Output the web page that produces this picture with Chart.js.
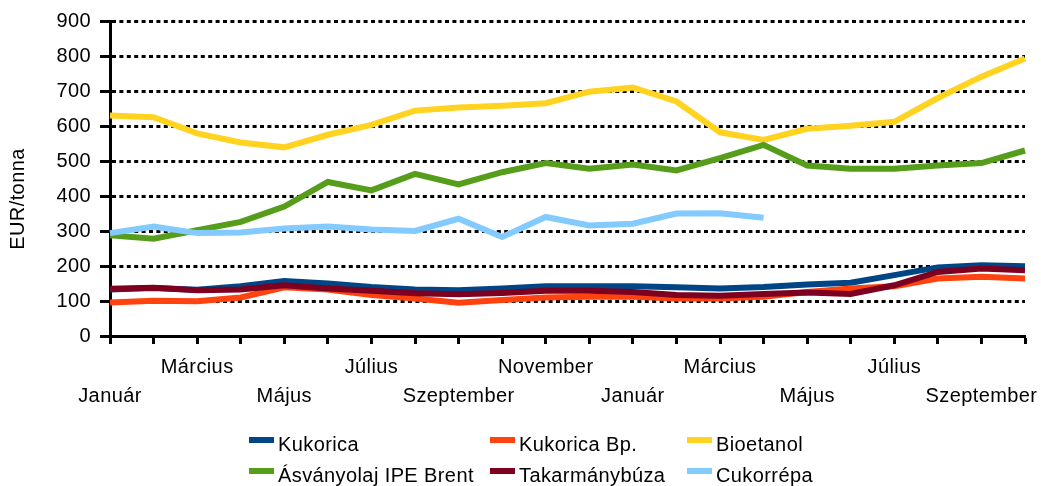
<!DOCTYPE html>
<html>
<head>
<meta charset="utf-8">
<title>EUR/tonna</title>
<script src="https://cdn.jsdelivr.net/npm/chart.js@4.4.1/dist/chart.umd.min.js"></script>
<style>
  html, body { margin: 0; padding: 0; background: #fff; }
  canvas { display: block; }
</style>
</head>
<body>
<canvas id="chart" width="1041" height="486"></canvas>
<script>
// Months on the x axis (two years, January to October)
const months = [
  'Január', 'Február', 'Március', 'Április', 'Május', 'Június', 'Július', 'Augusztus',
  'Szeptember', 'Október', 'November', 'December',
  'Január', 'Február', 'Március', 'Április', 'Május', 'Június', 'Július', 'Augusztus',
  'Szeptember', 'Október'
];

// Prices, EUR/tonna
const kukorica      = [133, 137, 132, 142, 157, 150, 140, 133, 131, 136, 142, 142, 142, 139, 136, 140, 147, 152, 174, 196, 202, 199];
const kukoricaBp    = [96, 101, 99, 110, 139, 133, 117, 107, 95, 103, 110, 112, 112, 107, 107, 112, 126, 136, 142, 164, 169, 164];
const bioetanol     = [630, 625, 579, 553, 539, 575, 603, 644, 653, 658, 665, 698, 710, 670, 582, 560, 592, 601, 612, 680, 741, 793];
const brent         = [288, 278, 302, 326, 370, 440, 416, 463, 433, 468, 494, 478, 490, 473, 508, 546, 487, 478, 478, 487, 494, 530];
const takarmanybuza = [135, 138, 131, 133, 145, 136, 129, 122, 119, 123, 129, 129, 126, 117, 115, 120, 124, 120, 145, 183, 193, 188];
const cukorrepa     = [294, 313, 294, 296, 307, 313, 304, 300, 335, 283, 340, 316, 321, 350, 351, 338];

const seriesNames  = ['Kukorica', 'Kukorica Bp.', 'Bioetanol', 'Ásványolaj IPE Brent', 'Takarmánybúza', 'Cukorrépa'];
const seriesData   = [kukorica, kukoricaBp, bioetanol, brent, takarmanybuza, cukorrepa];
const seriesColors = ['#004586', '#ff420e', '#ffd320', '#579d1c', '#7e0021', '#83caff'];

const axisTitle = 'EUR/tonna';
const FONT = '"Liberation Sans", Arial, sans-serif';
const FONT_SIZE = 20;
const SPACING = '0.4px';

// the original text is a bit wider than Arial, so widen it a little
const textSpacing = {
  id: 'textSpacing',
  beforeUpdate(chart) { chart.ctx.letterSpacing = SPACING; },
  beforeLayout(chart) { chart.ctx.letterSpacing = SPACING; },
  beforeDraw(chart) { chart.ctx.letterSpacing = SPACING; }
};

// axis title and a two-row legend, laid out like the spreadsheet export
const sideText = {
  id: 'sideText',
  afterDraw(chart) {
    const ctx = chart.ctx;
    ctx.save();
    ctx.letterSpacing = SPACING;
    ctx.font = FONT_SIZE + 'px ' + FONT;
    ctx.fillStyle = '#000';

    ctx.save();
    ctx.translate(18, 199);
    ctx.rotate(-Math.PI / 2);
    ctx.textAlign = 'center';
    ctx.textBaseline = 'middle';
    ctx.fillText(axisTitle, 0, 0);
    ctx.restore();

    const colX = [249, 490, 687];
    const rowY = [440, 471];
    ctx.textAlign = 'left';
    ctx.textBaseline = 'alphabetic';
    chart.data.datasets.forEach((ds, i) => {
      const x = colX[i % 3];
      const y = rowY[Math.floor(i / 3)];
      ctx.fillStyle = ds.borderColor;
      ctx.fillRect(x, y - 3, 25, 6);
      ctx.fillStyle = '#000';
      ctx.fillText(ds.label, x + 29, y + 11);
    });
    ctx.restore();
  }
};

const datasets = seriesNames.map((name, i) => ({
  label: name,
  data: seriesData[i],
  borderColor: seriesColors[i],
  backgroundColor: seriesColors[i],
  borderWidth: 6,
  pointRadius: 0,
  tension: 0,
  fill: false,
  order: seriesNames.length - i   // later series drawn on top
}));

new Chart(document.getElementById('chart'), {
  type: 'line',
  data: { labels: months, datasets },
  options: {
    responsive: false,
    animation: false,
    layout: { padding: { top: 20, right: 16, bottom: 75, left: 0 } },
    plugins: {
      legend: { display: false },
      tooltip: { enabled: false }
    },
    scales: {
      x: {
        type: 'category',
        offset: false,
        afterFit(scale) { scale.height = 75; },
        border: { display: true, color: '#000', width: 3 },
        grid: {
          drawOnChartArea: false,
          drawTicks: true,
          tickLength: 8,
          tickWidth: 3,
          tickColor: '#000'
        },
        ticks: {
          autoSkip: false,
          maxRotation: 0,
          minRotation: 0,
          padding: 9,
          color: '#000',
          font: { family: FONT, size: FONT_SIZE, lineHeight: 1.45 },
          callback(value, index) {
            const name = months[index];
            if (index % 4 === 0) return ['', name];
            if (index % 4 === 2) return [name, ''];
            return '';
          }
        }
      },
      y: {
        min: 0,
        max: 900,
        afterFit(scale) { scale.width = 110; },
        border: { display: true, color: '#000', width: 3, dash: [4, 3.4] },
        grid: {
          color: '#000',
          lineWidth: 3,
          drawTicks: true,
          tickLength: 10,
          tickWidth: 3,
          tickColor: '#000',
          tickBorderDash: []
        },
        ticks: {
          stepSize: 100,
          padding: 9,
          color: '#000',
          font: { family: FONT, size: FONT_SIZE }
        }
      }
    }
  },
  plugins: [textSpacing, sideText]
});
</script>
</body>
</html>
